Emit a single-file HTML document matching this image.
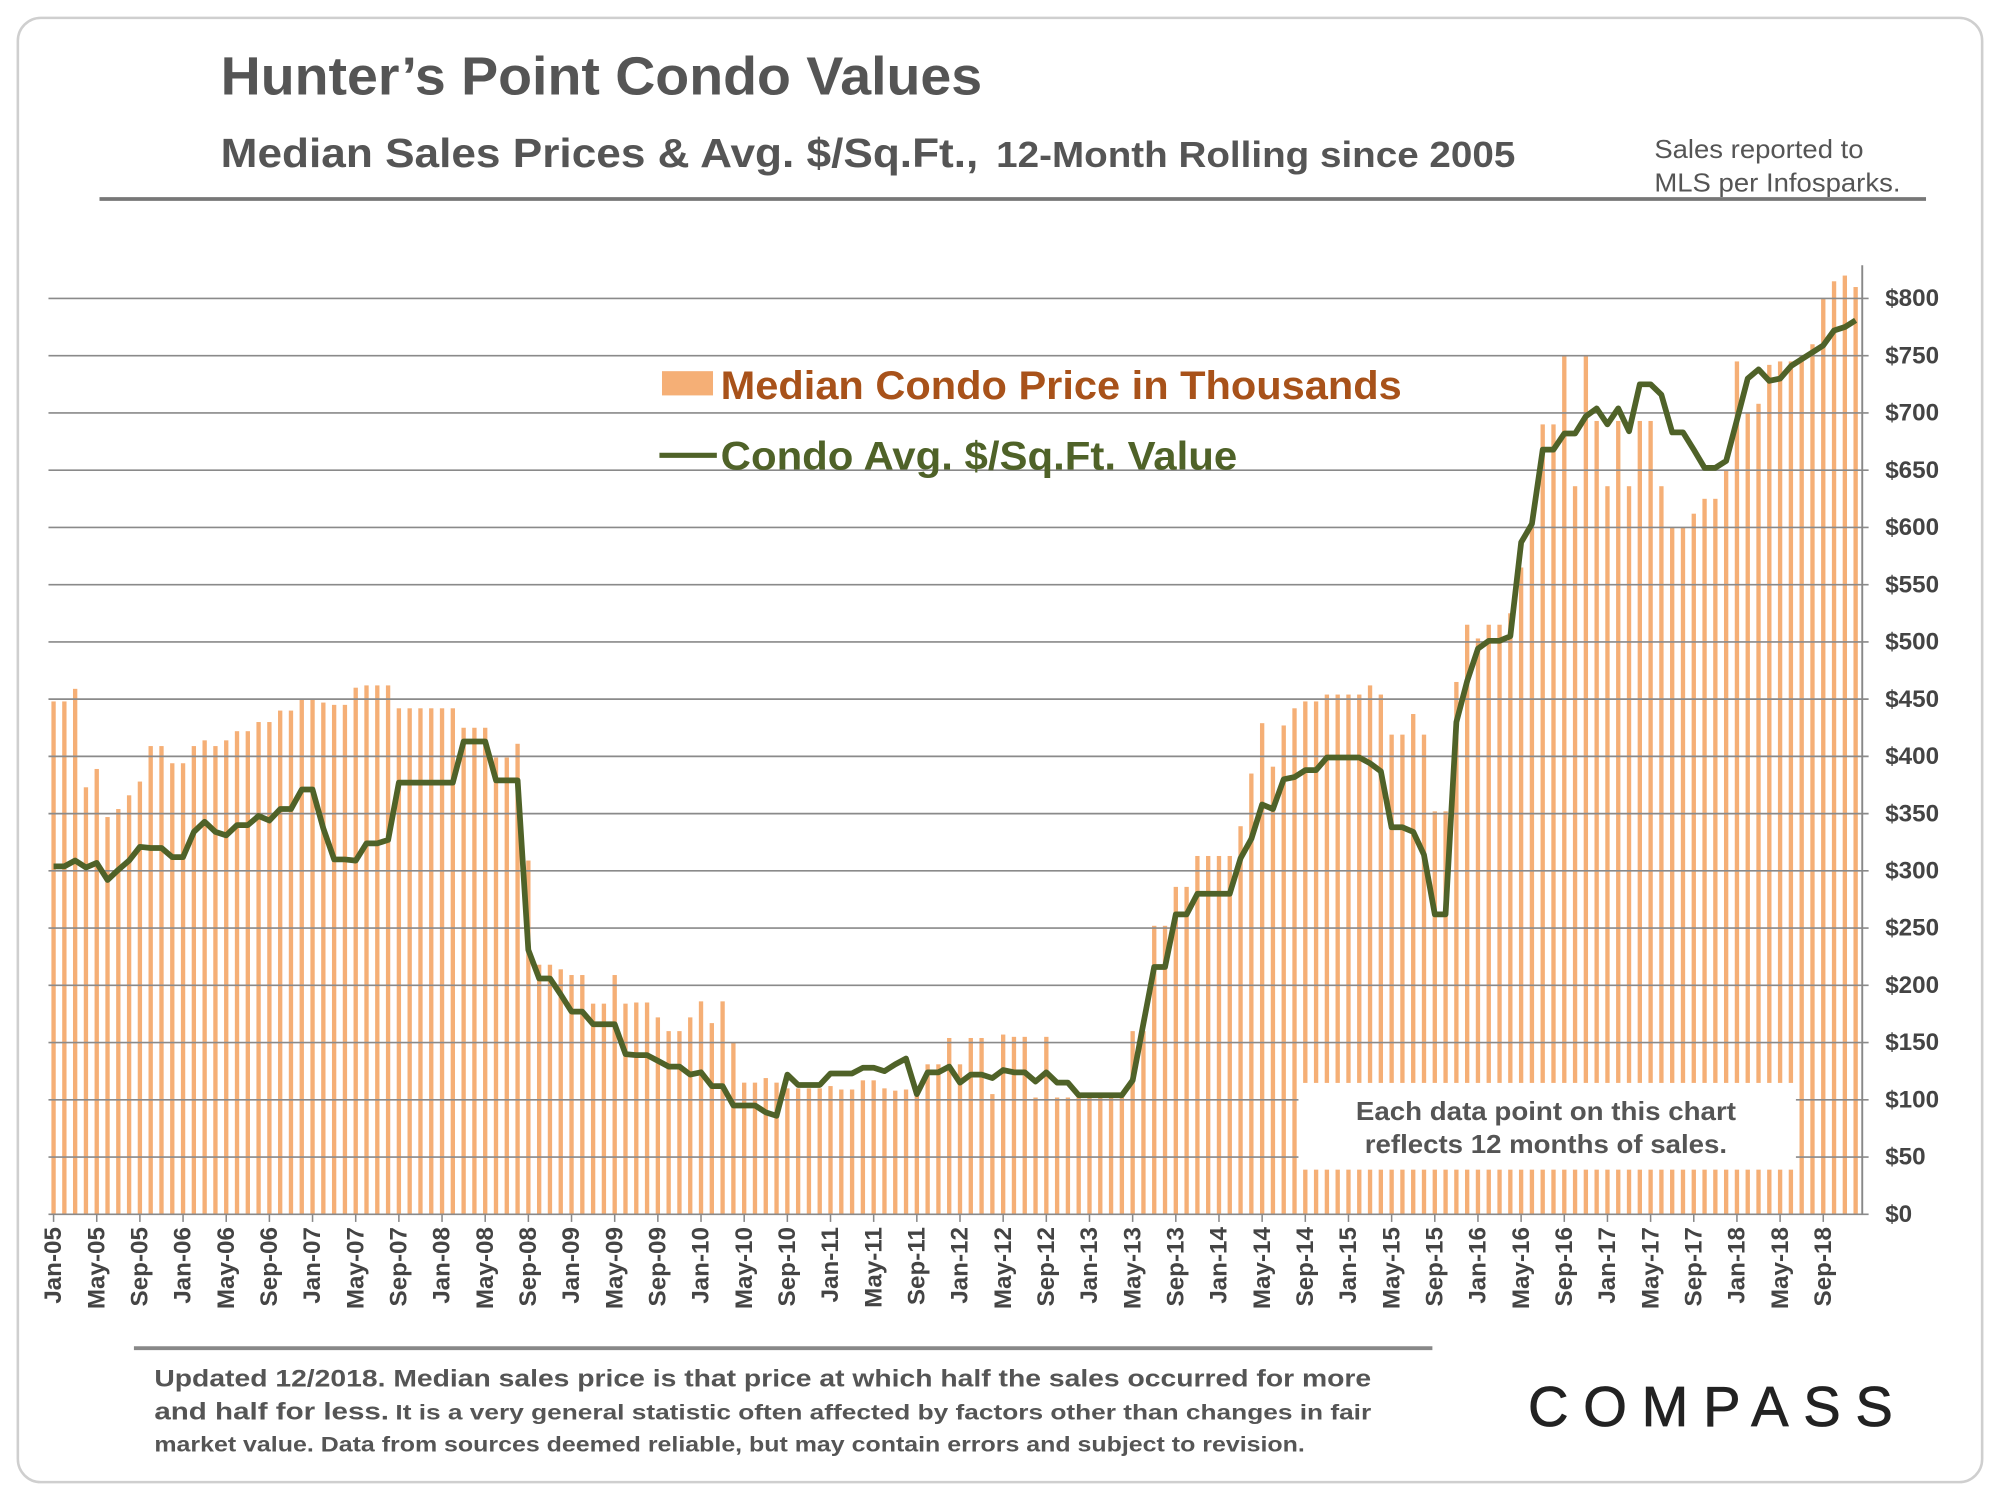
<!DOCTYPE html>
<html><head><meta charset="utf-8"><style>
html,body{margin:0;padding:0;background:#fff;}
svg{display:block;font-family:"Liberation Sans",Arial,sans-serif;}
</style></head><body>
<svg id="chart" width="2000" height="1500" viewBox="0 0 1568 1176" xmlns="http://www.w3.org/2000/svg">
<rect x="14" y="14" width="1540" height="1148" rx="18" fill="#fff" stroke="#cfcfcf" stroke-width="2"/>
<text x="173" y="74" font-size="42" font-weight="bold" fill="#555" textLength="597" lengthAdjust="spacingAndGlyphs">Hunter’s Point Condo Values</text>
<text x="173" y="131" font-weight="bold" fill="#555" font-size="32" textLength="594" lengthAdjust="spacingAndGlyphs">Median Sales Prices &amp; Avg. $/Sq.Ft.,</text>
<text x="781" y="131" font-weight="bold" fill="#555" font-size="28" textLength="407" lengthAdjust="spacingAndGlyphs">12-Month Rolling since 2005</text>
<text x="1297" y="124" font-size="20" fill="#555" textLength="164" lengthAdjust="spacingAndGlyphs">Sales reported to</text>
<text x="1297" y="150" font-size="20" fill="#555" textLength="193" lengthAdjust="spacingAndGlyphs">MLS per Infosparks.</text>
<line x1="78" y1="156" x2="1510" y2="156" stroke="#777" stroke-width="3"/>
<g id="plot"></g>
<rect x="1018" y="849" width="390" height="68" fill="#fff"/>
<text x="1063" y="878" font-size="20" font-weight="bold" fill="#555" textLength="298" lengthAdjust="spacingAndGlyphs">Each data point on this chart</text>
<text x="1070" y="904" font-size="20" font-weight="bold" fill="#555" textLength="284" lengthAdjust="spacingAndGlyphs">reflects 12 months of sales.</text>
<g>
<rect x="519" y="291" width="40" height="19" fill="#F5AF76"/>
<text x="565" y="313" font-size="31" font-weight="bold" fill="#A8521A" textLength="534" lengthAdjust="spacingAndGlyphs">Median Condo Price in Thousands</text>
<line x1="517" y1="357" x2="562" y2="357" stroke="#4F6228" stroke-width="4"/>
<text x="565" y="368" font-size="31" font-weight="bold" fill="#4F6228" textLength="405" lengthAdjust="spacingAndGlyphs">Condo Avg. $/Sq.Ft. Value</text>
</g>
<line x1="105" y1="1057" x2="1123" y2="1057" stroke="#888" stroke-width="3"/>
<text x="121" y="1087" font-size="19" font-weight="bold" fill="#555" textLength="954" lengthAdjust="spacingAndGlyphs">Updated 12/2018. Median sales price is that price at which half the sales occurred for more</text>
<text x="121" y="1113" font-size="19" font-weight="bold" fill="#555" textLength="184" lengthAdjust="spacingAndGlyphs">and half for less.</text>
<text x="310" y="1113" font-size="17" font-weight="bold" fill="#555" textLength="765" lengthAdjust="spacingAndGlyphs">It is a very general statistic often affected by factors other than changes in fair</text>
<text x="121" y="1138" font-size="17" font-weight="bold" fill="#555" textLength="902" lengthAdjust="spacingAndGlyphs">market value. Data from sources deemed reliable, but may contain errors and subject to revision.</text>
<text x="1198" y="1118" font-size="44" fill="#222" stroke="#222" stroke-width="0.6" textLength="286" lengthAdjust="spacing">COMPASS</text>
</svg>
<script>
const prices = [448,448,459,373,389,347,354,366,378,409,409,394,
394,409,414,409,414,422,422,430,430,440,440,450,
450,447,445,445,460,462,462,462,442,442,442,442,
442,442,425,425,425,399,399,411,309,218,218,214,
209,209,184,184,209,184,185,185,172,160,160,172,
186,167,186,150,115,115,119,115,110,110,110,110,
112,109,109,117,117,110,108,109,106,131,131,154,
131,154,154,105,157,155,155,102,155,102,102,102,
102,102,102,102,160,160,252,252,286,286,313,313,
313,313,339,385,429,391,427,442,448,448,454,454,
454,454,462,454,419,419,437,419,352,352,465,515,
503,515,515,525,565,600,690,690,750,636,750,693,
636,693,636,693,693,636,600,600,612,625,625,650,
745,700,708,742,745,745,750,760,800,815,820,810];
const sqft = [304,304,309,303,307,292,301,309,321,320,320,312,
312,334,343,334,331,340,340,348,344,354,354,371,
371,337,310,310,309,324,324,327,377,377,377,377,
377,377,413,413,413,379,379,379,231,206,206,192,
177,177,166,166,166,140,139,139,134,129,129,122,
124,112,112,95,95,95,89,86,122,113,113,113,
123,123,123,128,128,125,131,136,105,124,124,129,
115,122,122,119,126,124,124,116,124,115,115,104,
104,104,104,104,117,167,216,216,262,262,280,280,
280,280,311,328,358,354,380,382,388,388,399,399,
399,399,394,387,338,338,334,314,262,262,430,466,
494,501,501,505,587,603,668,668,682,682,697,704,
690,704,684,725,725,716,683,683,668,652,652,658,
694,730,738,728,730,741,747,753,759,772,775,781];
const yTicks = [0,50,100,150,200,250,300,350,400,450,500,550,600,650,700,750,800];
const monthNames = ["Jan","May","Sep"];
const NS = "http://www.w3.org/2000/svg";
const plot = document.getElementById('plot');
const x0 = 42, step = 8.46, yBase = 952, yScale = 0.8975;
function xPos(i){ return x0 + i*step; }
function yPos(v){ return yBase - v*yScale; }
function mk(tag, attrs){ const e=document.createElementNS(NS,tag); for(const k in attrs) e.setAttribute(k,attrs[k]); plot.appendChild(e); return e; }
prices.forEach((v,i)=>{
  const b = mk('rect',{x:xPos(i)-1.7,y:yPos(v),width:3.4,height:v*yScale,fill:'#F5AF76'});
  
  
});
yTicks.forEach(t=>{
  const g = mk('line',{x1:38,x2:1465,y1:yPos(t),y2:yPos(t),stroke:'#8a8a8a','stroke-width':1.3});
  
  
  const l = mk('text',{x:1478,y:yPos(t)+6,'font-size':19,'font-weight':'bold',fill:'#444'});
  l.textContent = '$'+t;
  
  
});
const ax = mk('line',{x1:1460,x2:1460,y1:208,y2:952,stroke:'#888','stroke-width':1.5});


for(let i=0;i<prices.length;i+=4){
  const yr = 5 + Math.floor(i/12);
  const name = monthNames[(i%12)/4] + '-' + String(yr).padStart(2,'0');
  const tk = mk('line',{x1:xPos(i),x2:xPos(i),y1:952,y2:958,stroke:'#888','stroke-width':1.2});
  
  
  const t = mk('text',{x:0,y:0,'font-size':19,'font-weight':'bold',fill:'#444','text-anchor':'end',transform:`translate(${xPos(i)+6},962) rotate(-90)`});
  t.textContent = name;
  
  
}
const pts = sqft.map((v,i)=>xPos(i).toFixed(1)+','+yPos(v).toFixed(1)).join(' ');
const pl = mk('polyline',{points:pts,fill:'none',stroke:'#4F6228','stroke-width':4.5,'stroke-linejoin':'round'});


</script>
</body></html>
